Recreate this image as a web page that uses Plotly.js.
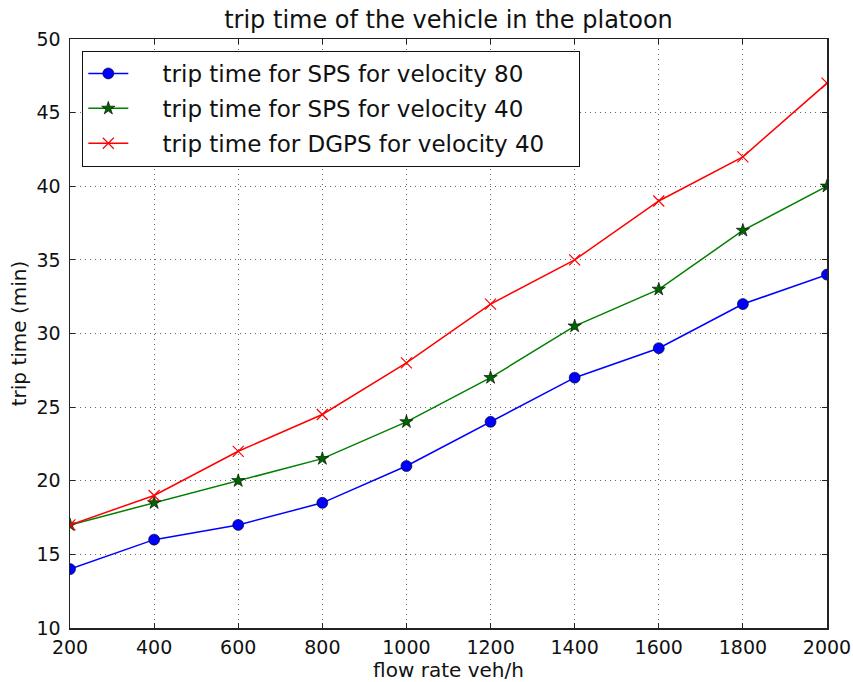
<!DOCTYPE html>
<html>
<head>
<meta charset="utf-8">
<script src="https://cdn.plot.ly/plotly-3.0.1.min.js"></script>
<style>body{margin:0;padding:0;background:#fff}#chart{width:853px;height:682px}</style>
</head>
<body>
<div id="chart"></div>
<script>
const flowRate = [200, 400, 600, 800, 1000, 1200, 1400, 1600, 1800, 2000];
const spsV80 = [14, 16, 17, 18.5, 21, 24, 27, 29, 32, 34];
const spsV40 = [17, 18.5, 20, 21.5, 24, 27, 30.5, 33, 37, 40];
const dgpsV40 = [17, 19, 22, 24.5, 28, 32, 35, 39, 42, 47];
const seriesNames = ['trip time for SPS for velocity 80', 'trip time for SPS for velocity 40', 'trip time for DGPS for velocity 40'];
const xTicks = [200, 400, 600, 800, 1000, 1200, 1400, 1600, 1800, 2000];
const yTicks = [10, 15, 20, 25, 30, 35, 40, 45, 50];

const font = 'DejaVu Sans, sans-serif';
const pad = '\u00a0\u00a0\u00a0\u00a0';
const traces = [
  {x: flowRate, y: spsV80, name: pad + seriesNames[0] + pad, mode: 'lines+markers', legendgroup: 'a',
   line: {color: '#0000ff', width: 1.5},
   marker: {symbol: 'circle', size: 11, color: '#0000ff', line: {color: '#000', width: 0.6}}},
  {x: flowRate, y: spsV40, name: pad + seriesNames[1] + pad, mode: 'lines+markers', legendgroup: 'b',
   line: {color: '#008000', width: 1.5},
   marker: {symbol: 'star', size: 10, color: '#006400', line: {color: '#000', width: 0.6}}},
  {x: flowRate, y: dgpsV40, name: pad + seriesNames[2] + pad, mode: 'lines+markers', legendgroup: 'c',
   line: {color: '#ff0000', width: 1.5},
   marker: {symbol: 'x-thin-open', size: 11, color: '#ff0000', line: {color: '#ff0000', width: 1.2}}}
];

const axisCommon = {
  showline: true, mirror: 'ticks', linecolor: '#222', linewidth: 1.5,
  ticks: 'inside', ticklen: 5, tickcolor: '#222', tickwidth: 1,
  showgrid: true, gridcolor: '#666', griddash: '1px,4px', gridwidth: 1.2,
  zeroline: false, tickfont: {family: font, size: 19, color: '#111'}
};

const layout = {
  width: 853, height: 682,
  margin: {l: 70, r: 26, t: 39, b: 54},
  paper_bgcolor: '#fff', plot_bgcolor: '#fff',
  title: {text: 'trip time of the vehicle in the platoon', font: {family: font, size: 24, color: '#111'},
          x: 0.5, xref: 'paper', y: 0.971, yref: 'container', yanchor: 'middle'},
  xaxis: Object.assign({}, axisCommon, {range: [200, 2000], tickvals: xTicks, ticklabelstandoff: 2,
    title: {text: 'flow rate veh/h', font: {family: font, size: 20, color: '#111'}, standoff: 2}}),
  yaxis: Object.assign({}, axisCommon, {range: [10, 50], tickvals: yTicks, ticklabelstandoff: 4,
    title: {text: 'trip time (min)', font: {family: font, size: 20, color: '#111'}, standoff: 4}}),
  showlegend: true,
  legend: {x: 0.016, y: 0.98, xanchor: 'left', yanchor: 'top', bgcolor: '#fff',
    bordercolor: '#111', borderwidth: 1.2, font: {family: font, size: 23, color: '#111'},
    tracegroupgap: 2, itemwidth: 40}
};

Plotly.newPlot('chart', traces, layout, {displayModeBar: false, staticPlot: true});
</script>
</body>
</html>
